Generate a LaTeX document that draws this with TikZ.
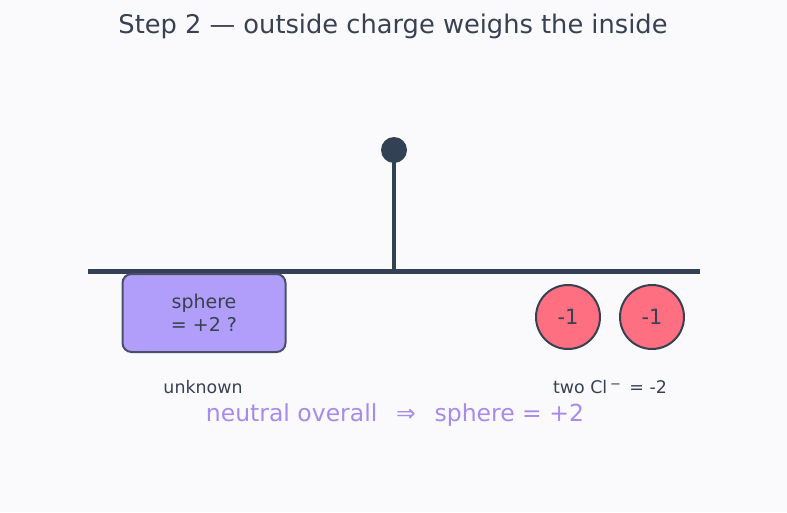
\documentclass[tikz,border=0pt]{standalone}
\usepackage{fontspec}
\setmainfont{DejaVu Sans}
\usepackage{tikz}
\usetikzlibrary{positioning,calc}
\definecolor{bgcol}{HTML}{FAFAFD}
\definecolor{slate}{HTML}{334155}
\definecolor{ink}{HTML}{374151}
\definecolor{lilac}{HTML}{B09EFA}
\definecolor{lilactext}{HTML}{A78BEA}
\definecolor{rose}{HTML}{FF6F82}

\begin{document}
\begin{tikzpicture}[
    x=1pt, y=-1pt,
    txt/.style={text=ink, inner sep=0pt},
    unknownbox/.style={draw=ink!85!lilac, line width=2pt, rounded corners=9pt, fill=lilac,
      minimum width=163pt, minimum height=78pt, align=center, text=ink, font=\fontsize{19}{23}\selectfont},
    ion/.style={circle, draw=ink, line width=2pt, fill=rose, minimum size=64pt, inner sep=0pt,
      text=ink, font=\fontsize{21}{23}\selectfont},
    beam/.style={slate, line width=5pt},
  ]
    \fill[bgcol] (0,0) rectangle (787,512);
    \useasboundingbox (0,0) rectangle (787,512);

    \node[txt, font=\fontsize{25.7}{28}\selectfont] (title) at (393,26) {Step 2 — outside charge weighs the inside};

    % balance
    \coordinate (beamL) at (88,271);
    \coordinate (beamR) at (700,271);
    \coordinate (pivot) at (394,271);
    \draw[beam] (beamL) -- (beamR);
    \node[circle, fill=slate, minimum size=26pt, inner sep=0pt] (knob) at (394,150) {};
    \draw[slate, line width=4pt] (knob.center) -- (pivot);

    % left pan
    \node[unknownbox] (sphere) at (204,313) {sphere\\= +2 ?};
    \node[txt, font=\fontsize{17.4}{19}\selectfont] (unk) at (203,387) {unknown};

    % right pan
    \node[ion] (cla) at (568,317) {-1};
    \node[ion] (clb) at (652,317) {-1};
    \node[txt, font=\fontsize{17.4}{19}\selectfont] (twocl) at (610,387)
      {two Cl\,\raisebox{0.55ex}{\fontsize{13}{13}\selectfont −}\, = -2};

    \node[text=lilactext, inner sep=0pt, font=\fontsize{23.5}{26}\selectfont] (concl) at (395,415)
      {neutral overall\hspace{0.8em}⇒\hspace{0.8em}sphere = +2};
  \end{tikzpicture}
\end{document}
